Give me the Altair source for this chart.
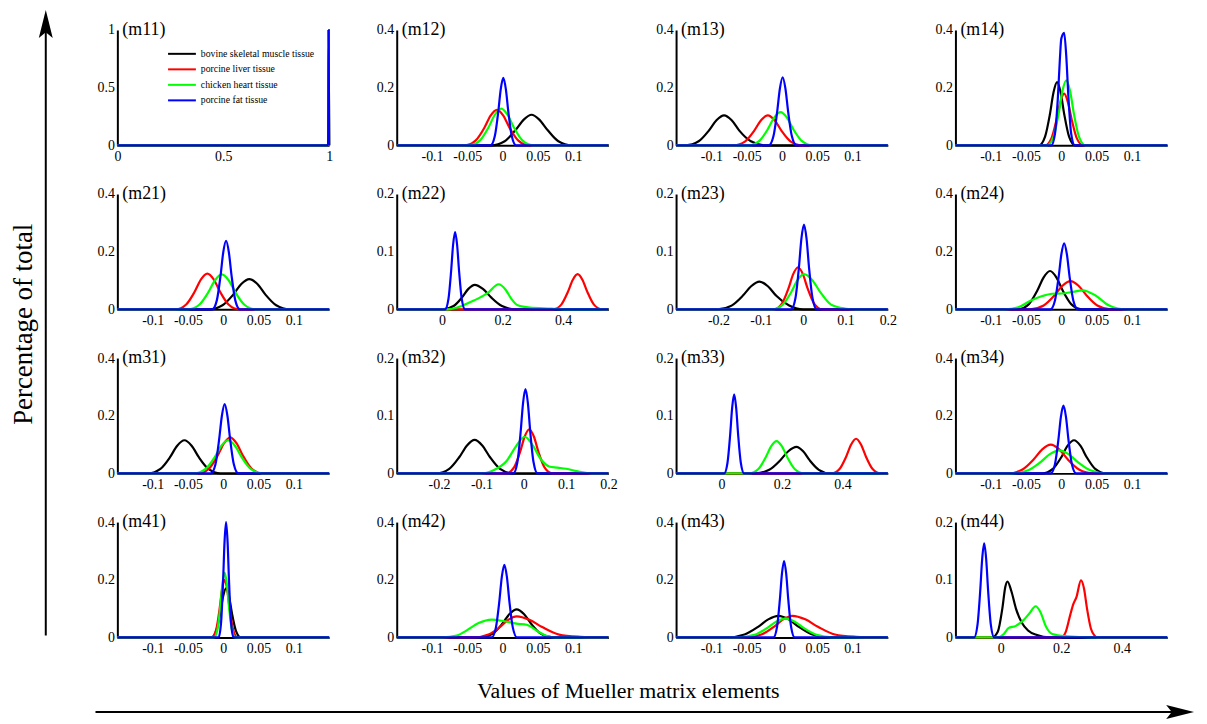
import altair as alt
import pandas as pd

SERIF = "Liberation Serif"
SERIES = ["bovine skeletal muscle tissue", "porcine liver tissue",
          "chicken heart tissue", "porcine fat tissue"]
COLORS = ["#000000", "#ff0000", "#00ff00", "#0000ff"]

# axis ranges / tick labels
X_M11 = [0, 1]
X_M11_TICKS = [0, 0.5, 1]
X_NARROW = [-0.15, 0.15]
X_NARROW_TICKS = [-0.1, -0.05, 0, 0.05, 0.1]
X_MID = [-0.3, 0.2]
X_MID_TICKS = [-0.2, -0.1, 0, 0.1, 0.2]
X_WIDE = [-0.15, 0.55]
X_WIDE_TICKS = [0, 0.2, 0.4]
Y_1 = [0, 1]
Y_1_TICKS = [0, 0.5, 1]
Y_04 = [0, 0.4]
Y_04_TICKS = [0, 0.2, 0.4]
Y_02 = [0, 0.2]
Y_02_TICKS = [0, 0.1, 0.2]

# ---- curves (x values, y values) ----
M11_K = ([0.0, 0.995, 0.998], [0.0, 0.0, 1.0])
M11_R = ([0.0, 0.995, 0.998], [0.0, 0.0, 1.0])
M11_G = ([0.0, 0.995, 0.998], [0.0, 0.0, 1.0])
M11_B = ([0.0, 0.995, 0.998], [0.0, 0.0, 1.0])

M12_K = ([-0.016, 0.003, 0.018, 0.030, 0.041, 0.052, 0.064, 0.079, 0.098],
         [0, 0.014, 0.052, 0.089, 0.106, 0.089, 0.052, 0.014, 0])
M12_R = ([-0.053, -0.038, -0.026, -0.017, -0.008, 0.001, 0.010, 0.022, 0.037],
         [0, 0.017, 0.060, 0.103, 0.123, 0.103, 0.060, 0.017, 0])
M12_G = ([-0.047, -0.032, -0.020, -0.011, -0.002, 0.007, 0.016, 0.028, 0.043],
         [0, 0.017, 0.062, 0.106, 0.127, 0.106, 0.062, 0.017, 0])
M12_B = ([-0.017, -0.011, -0.0062, -0.0026, 0.001, 0.0046, 0.0082, 0.013, 0.019],
         [0, 0.032, 0.115, 0.195, 0.234, 0.195, 0.115, 0.032, 0])

M13_K = ([-0.136, -0.118, -0.1036, -0.0928, -0.082, -0.0712, -0.0604, -0.044, -0.024],
         [0, 0.014, 0.051, 0.087, 0.104, 0.087, 0.051, 0.014, 0])
M13_R = ([-0.068, -0.052, -0.0392, -0.0296, -0.020, -0.0104, -0.0008, 0.012, 0.028],
         [0, 0.014, 0.051, 0.087, 0.104, 0.087, 0.051, 0.014, 0])
M13_G = ([-0.047, -0.032, -0.020, -0.011, -0.002, 0.007, 0.016, 0.028, 0.043],
         [0, 0.0155, 0.056, 0.096, 0.115, 0.096, 0.056, 0.0155, 0])
M13_B = ([-0.0185, -0.012, -0.0068, -0.0029, 0.001, 0.0049, 0.0088, 0.014, 0.0205],
         [0, 0.032, 0.116, 0.197, 0.236, 0.197, 0.116, 0.032, 0])

M14_K = ([-0.0315, -0.023, -0.0162, -0.0111, -0.006, -0.0009, 0.0042, 0.011, 0.0195],
         [0, 0.030, 0.107, 0.183, 0.219, 0.183, 0.107, 0.030, 0])
M14_R = ([-0.023, -0.014, -0.0068, -0.0014, 0.004, 0.0094, 0.0148, 0.022, 0.031],
         [0, 0.024, 0.088, 0.149, 0.179, 0.149, 0.088, 0.024, 0])
M14_G = ([-0.020, -0.011, -0.0038, 0.0016, 0.007, 0.0124, 0.0178, 0.025, 0.034],
         [0, 0.030, 0.110, 0.188, 0.225, 0.188, 0.110, 0.030, 0])
M14_B = ([-0.014, -0.009, -0.005, -0.002, 0.0, 0.004, 0.007, 0.010, 0.014, 0.019],
         [0, 0.04, 0.16, 0.30, 0.37, 0.39, 0.31, 0.17, 0.04, 0])

M21_K = ([-0.020, -0.001, 0.0142, 0.0256, 0.037, 0.0484, 0.0598, 0.075, 0.094],
         [0, 0.014, 0.051, 0.088, 0.105, 0.088, 0.051, 0.014, 0])
M21_R = ([-0.0675, -0.0525, -0.0405, -0.0315, -0.0225, -0.0135, -0.0045, 0.0075, 0.0225],
         [0, 0.017, 0.061, 0.104, 0.124, 0.104, 0.061, 0.017, 0])
M21_G = ([-0.050, -0.034, -0.0212, -0.0116, -0.002, 0.0076, 0.0172, 0.030, 0.046],
         [0, 0.016, 0.059, 0.101, 0.121, 0.101, 0.059, 0.016, 0])
M21_B = ([-0.0155, -0.009, -0.0038, 0.0001, 0.004, 0.0079, 0.0118, 0.017, 0.0235],
         [0, 0.032, 0.117, 0.199, 0.238, 0.199, 0.117, 0.032, 0])

M22_K = ([0.003, 0.038, 0.066, 0.087, 0.108, 0.135, 0.162, 0.198, 0.243],
         [0, 0.0057, 0.0208, 0.0355, 0.0425, 0.0355, 0.0208, 0.0057, 0])
M22_R = ([0.367, 0.394, 0.4156, 0.4318, 0.448, 0.4642, 0.4804, 0.502, 0.529],
         [0, 0.0082, 0.030, 0.051, 0.061, 0.051, 0.030, 0.0082, 0])
M22_G = ([0.02, 0.055, 0.09, 0.12, 0.15, 0.187, 0.21, 0.228, 0.25, 0.29, 0.36, 0.42],
         [0, 0.004, 0.012, 0.019, 0.028, 0.0435, 0.034, 0.019, 0.007, 0.003, 0.0015, 0])
M22_B = ([0.010, 0.021, 0.0298, 0.0364, 0.043, 0.0496, 0.0562, 0.065, 0.076],
         [0, 0.018, 0.066, 0.112, 0.134, 0.112, 0.066, 0.018, 0])

M23_K = ([-0.202, -0.169, -0.1426, -0.1228, -0.103, -0.0832, -0.0634, -0.033, 0.0],
         [0, 0.0065, 0.0235, 0.040, 0.048, 0.040, 0.0235, 0.0065, 0])
M23_R = ([-0.069, -0.050, -0.0348, -0.0234, -0.012, -0.0006, 0.0108, 0.026, 0.045],
         [0, 0.0099, 0.0358, 0.061, 0.073, 0.061, 0.0358, 0.0099, 0])
M23_G = ([-0.073, -0.048, -0.028, -0.013, 0.002, 0.0212, 0.0404, 0.066, 0.098, 0.125],
         [0, 0.0082, 0.030, 0.051, 0.061, 0.051, 0.030, 0.0082, 0.0015, 0])
M23_B = ([-0.028, -0.018, -0.010, -0.004, 0.002, 0.008, 0.014, 0.022, 0.032],
         [0, 0.020, 0.072, 0.123, 0.147, 0.123, 0.072, 0.020, 0])

M24_K = ([-0.061, -0.046, -0.034, -0.025, -0.016, -0.007, 0.002, 0.014, 0.029],
         [0, 0.018, 0.065, 0.111, 0.133, 0.111, 0.065, 0.018, 0])
M24_R = ([-0.044, -0.025, -0.0098, 0.0016, 0.013, 0.0244, 0.0358, 0.051, 0.070],
         [0, 0.0132, 0.048, 0.082, 0.098, 0.082, 0.048, 0.0132, 0])
M24_G = ([-0.08, -0.06, -0.045, -0.027, -0.013, 0.001, 0.015, 0.03, 0.048, 0.067, 0.08, 0.095],
         [0, 0.008, 0.028, 0.046, 0.054, 0.055, 0.06, 0.066, 0.049, 0.014, 0.003, 0])
M24_B = ([-0.0155, -0.009, -0.0038, 0.0001, 0.004, 0.0079, 0.0118, 0.017, 0.0235],
         [0, 0.031, 0.112, 0.191, 0.229, 0.191, 0.112, 0.031, 0])

M31_K = ([-0.106, -0.089, -0.0754, -0.0652, -0.055, -0.0448, -0.0346, -0.021, -0.004],
         [0, 0.0155, 0.056, 0.096, 0.115, 0.096, 0.056, 0.0155, 0])
M31_R = ([-0.035, -0.020, -0.008, 0.001, 0.010, 0.019, 0.028, 0.040, 0.055],
         [0, 0.017, 0.061, 0.104, 0.125, 0.104, 0.061, 0.017, 0])
M31_G = ([-0.041, -0.025, -0.0122, -0.0026, 0.007, 0.0166, 0.0262, 0.039, 0.055],
         [0, 0.0155, 0.056, 0.096, 0.115, 0.096, 0.056, 0.0155, 0])
M31_B = ([-0.0175, -0.011, -0.0058, -0.0019, 0.002, 0.0059, 0.0098, 0.015, 0.0215],
         [0, 0.032, 0.118, 0.200, 0.240, 0.200, 0.118, 0.032, 0])

M32_K = ([-0.206, -0.176, -0.152, -0.134, -0.116, -0.098, -0.080, -0.056, -0.026],
         [0, 0.0078, 0.0284, 0.0484, 0.058, 0.0484, 0.0284, 0.0078, 0])
M32_R = ([-0.041, -0.023, -0.0086, 0.0022, 0.013, 0.0238, 0.0346, 0.049, 0.067],
         [0, 0.0103, 0.0375, 0.0639, 0.0765, 0.0639, 0.0375, 0.0103, 0])
M32_G = ([-0.1, -0.07, -0.04, -0.02, 0.002, 0.02, 0.04, 0.06, 0.08, 0.1, 0.13, 0.16],
         [0, 0.006, 0.022, 0.045, 0.0635, 0.05, 0.025, 0.012, 0.01, 0.008, 0.003, 0])
M32_B = ([-0.0245, -0.015, -0.0074, -0.0017, 0.004, 0.0097, 0.0154, 0.023, 0.0325],
         [0, 0.0197, 0.0715, 0.122, 0.146, 0.122, 0.0715, 0.0197, 0])

M33_K = ([0.113, 0.158, 0.194, 0.221, 0.248, 0.270, 0.292, 0.322, 0.359],
         [0, 0.0062, 0.0225, 0.0384, 0.046, 0.0384, 0.0225, 0.0062, 0])
M33_R = ([0.364, 0.391, 0.4126, 0.4288, 0.445, 0.4612, 0.4774, 0.499, 0.526],
         [0, 0.0081, 0.0294, 0.050, 0.060, 0.050, 0.0294, 0.0081, 0])
M33_G = ([0.092, 0.122, 0.146, 0.164, 0.182, 0.200, 0.218, 0.242, 0.272],
         [0, 0.0076, 0.0274, 0.0468, 0.056, 0.0468, 0.0274, 0.0076, 0])
M33_B = ([0.009, 0.020, 0.0288, 0.0354, 0.042, 0.0486, 0.0552, 0.064, 0.075],
         [0, 0.0185, 0.067, 0.114, 0.137, 0.114, 0.067, 0.0185, 0])

M34_K = ([-0.027, -0.012, 0.0, 0.009, 0.018, 0.027, 0.036, 0.048, 0.063],
         [0, 0.0155, 0.056, 0.096, 0.115, 0.096, 0.056, 0.0155, 0])
M34_R = ([-0.075, -0.055, -0.039, -0.027, -0.015, -0.003, 0.009, 0.025, 0.045],
         [0, 0.0135, 0.049, 0.0835, 0.10, 0.0835, 0.049, 0.0135, 0])
M34_G = ([-0.069, -0.047, -0.0294, -0.0162, -0.003, 0.0102, 0.0234, 0.041, 0.063],
         [0, 0.0108, 0.0392, 0.0668, 0.08, 0.0668, 0.0392, 0.0108, 0])
M34_B = ([-0.015, -0.009, -0.0042, -0.0006, 0.003, 0.0066, 0.0102, 0.015, 0.021],
         [0, 0.0317, 0.115, 0.196, 0.235, 0.196, 0.115, 0.0317, 0])

M41_K = ([-0.017, -0.010, -0.0044, -0.0002, 0.004, 0.0082, 0.0124, 0.018, 0.025],
         [0, 0.023, 0.083, 0.142, 0.17, 0.142, 0.083, 0.023, 0])
M41_R = ([-0.016, -0.010, -0.0052, -0.0016, 0.002, 0.0056, 0.0092, 0.014, 0.020],
         [0, 0.027, 0.098, 0.167, 0.20, 0.167, 0.098, 0.027, 0])
M41_G = ([-0.013, -0.008, -0.004, -0.001, 0.002, 0.005, 0.008, 0.012, 0.017],
         [0, 0.030, 0.110, 0.188, 0.225, 0.188, 0.110, 0.030, 0])
M41_B = ([-0.0065, -0.003, -0.0002, 0.0019, 0.004, 0.0061, 0.0082, 0.011, 0.0145],
         [0, 0.054, 0.196, 0.334, 0.40, 0.334, 0.196, 0.054, 0])

M42_K = ([-0.031, -0.014, -0.0004, 0.0098, 0.020, 0.0302, 0.0404, 0.054, 0.071],
         [0, 0.0131, 0.0475, 0.081, 0.097, 0.081, 0.0475, 0.0131, 0])
M42_R = ([-0.04, -0.02, -0.004, 0.008, 0.02, 0.038, 0.056, 0.08, 0.11, 0.135],
         [0, 0.0099, 0.0358, 0.061, 0.073, 0.061, 0.0358, 0.0099, 0.002, 0])
M42_G = ([-0.085, -0.065, -0.053, -0.034, -0.0155, 0.003, 0.022, 0.034, 0.05, 0.064, 0.075],
         [0, 0.006, 0.021, 0.05, 0.062, 0.056, 0.047, 0.044, 0.021, 0.0035, 0])
M42_B = ([-0.0155, -0.0095, -0.0047, -0.0011, 0.0025, 0.0061, 0.0097, 0.0145, 0.0205],
         [0, 0.034, 0.123, 0.210, 0.252, 0.210, 0.123, 0.034, 0])

M43_K = ([-0.077, -0.053, -0.0338, -0.0194, -0.005, 0.0094, 0.0238, 0.043, 0.067],
         [0, 0.0101, 0.0368, 0.0626, 0.075, 0.0626, 0.0368, 0.0101, 0])
M43_R = ([-0.051, -0.029, -0.0114, 0.0018, 0.015, 0.033, 0.051, 0.075, 0.105, 0.13],
         [0, 0.0101, 0.0368, 0.0626, 0.075, 0.0626, 0.0368, 0.0101, 0.002, 0])
M43_G = ([-0.061, -0.039, -0.0214, -0.0082, 0.005, 0.0182, 0.0314, 0.049, 0.071],
         [0, 0.0088, 0.0319, 0.0543, 0.065, 0.0543, 0.0319, 0.0088, 0])
M43_B = ([-0.012, -0.007, -0.003, 0.0, 0.003, 0.006, 0.009, 0.013, 0.018],
         [0, 0.036, 0.130, 0.221, 0.265, 0.221, 0.130, 0.036, 0])

M44_K = ([-0.03, -0.01, 0.005, 0.015, 0.022, 0.035, 0.05, 0.07, 0.09, 0.12, 0.16],
         [0, 0.01, 0.05, 0.088, 0.097, 0.08, 0.05, 0.025, 0.012, 0.004, 0])
M44_R = ([0.2, 0.215, 0.23, 0.24, 0.25, 0.265, 0.275, 0.285, 0.298, 0.31, 0.32],
         [0, 0.01, 0.04, 0.058, 0.07, 0.099, 0.085, 0.05, 0.015, 0.003, 0])
M44_G = ([-0.01, 0.01, 0.025, 0.05, 0.075, 0.095, 0.115, 0.13, 0.15, 0.17, 0.22, 0.3],
         [0, 0.006, 0.016, 0.02, 0.03, 0.042, 0.054, 0.045, 0.018, 0.006, 0.002, 0])
M44_B = ([-0.088, -0.077, -0.0682, -0.0616, -0.055, -0.0484, -0.0418, -0.033, -0.022],
         [0, 0.022, 0.080, 0.136, 0.163, 0.136, 0.080, 0.022, 0])

CURVES = {
    "m11": [M11_K, M11_R, M11_G, M11_B], "m12": [M12_K, M12_R, M12_G, M12_B],
    "m13": [M13_K, M13_R, M13_G, M13_B], "m14": [M14_K, M14_R, M14_G, M14_B],
    "m21": [M21_K, M21_R, M21_G, M21_B], "m22": [M22_K, M22_R, M22_G, M22_B],
    "m23": [M23_K, M23_R, M23_G, M23_B], "m24": [M24_K, M24_R, M24_G, M24_B],
    "m31": [M31_K, M31_R, M31_G, M31_B], "m32": [M32_K, M32_R, M32_G, M32_B],
    "m33": [M33_K, M33_R, M33_G, M33_B], "m34": [M34_K, M34_R, M34_G, M34_B],
    "m41": [M41_K, M41_R, M41_G, M41_B], "m42": [M42_K, M42_R, M42_G, M42_B],
    "m43": [M43_K, M43_R, M43_G, M43_B], "m44": [M44_K, M44_R, M44_G, M44_B],
}
NARROW = (X_NARROW, X_NARROW_TICKS, Y_04, Y_04_TICKS)
SPEC = {
    "m11": (X_M11, X_M11_TICKS, Y_1, Y_1_TICKS),
    "m12": NARROW, "m13": NARROW, "m14": NARROW,
    "m21": NARROW, "m22": (X_WIDE, X_WIDE_TICKS, Y_02, Y_02_TICKS),
    "m23": (X_MID, X_MID_TICKS, Y_02, Y_02_TICKS), "m24": NARROW,
    "m31": NARROW, "m32": (X_MID, X_MID_TICKS, Y_02, Y_02_TICKS),
    "m33": (X_WIDE, X_WIDE_TICKS, Y_02, Y_02_TICKS), "m34": NARROW,
    "m41": NARROW, "m42": NARROW, "m43": NARROW,
    "m44": (X_WIDE, X_WIDE_TICKS, Y_02, Y_02_TICKS),
}
ORDER = ["m11", "m12", "m13", "m14", "m21", "m22", "m23", "m24",
         "m31", "m32", "m33", "m34", "m41", "m42", "m43", "m44"]

Y_LABEL = "Percentage of total"
X_LABEL = "Values of Mueller matrix elements"

PW, PH = 213, 116

AX = dict(labelFont=SERIF, labelFontSize=14, labelColor="black", domainColor="black",
          domainWidth=2, ticks=False, grid=False, labelFlush=False, labelOverlap=False,
          labelExpr="toString(datum.value)")

ONE = pd.DataFrame({"a": [0]})


def make_panel(name):
    xdom, xt, ydom, yt = SPEC[name]
    xenc = alt.X("x:Q", title=None,
                 scale=alt.Scale(domain=xdom, nice=False, zero=False),
                 axis=alt.Axis(values=xt, labelPadding=4, **AX))
    yenc = alt.Y("y:Q", title=None,
                 scale=alt.Scale(domain=ydom, nice=False, zero=False),
                 axis=alt.Axis(values=yt, labelPadding=3, **AX))
    if name == "m11":
        leg = alt.Legend(orient="none", legendX=57, legendY=16, title=None,
                         symbolType="M-2,0L2,0", symbolSize=196, symbolStrokeWidth=2,
                         labelFont=SERIF, labelFontSize=9.8, labelColor="black",
                         labelOffset=11, rowPadding=2.6, padding=0)
    else:
        leg = None
    layers = []
    for s, (xs, ys) in zip(SERIES, CURVES[name]):
        xs2, ys2 = list(xs), list(ys)
        if xs2[0] > xdom[0]:
            xs2, ys2 = [xdom[0]] + xs2, [0] + ys2
        if xs2[-1] < xdom[1]:
            xs2, ys2 = xs2 + [xdom[1]], ys2 + [0]
        df = pd.DataFrame({"x": xs2, "y": ys2, "s": s})
        layers.append(
            alt.Chart(df).mark_line(strokeWidth=2.2, interpolate="monotone").encode(
                x=xenc, y=yenc,
                color=alt.Color("s:N", scale=alt.Scale(domain=SERIES, range=COLORS),
                                legend=leg)))
    title = alt.Chart(pd.DataFrame({"t": [f"({name})"]})).mark_text(
        font=SERIF, fontSize=18, align="left", baseline="middle", color="black"
    ).encode(text="t:N", x=alt.value(5), y=alt.value(0))
    layers.append(title)
    if name == "m11":
        layers.append(alt.Chart(pd.DataFrame({"t": [Y_LABEL]})).mark_text(
            font=SERIF, fontSize=27, angle=270, align="center", baseline="middle",
            color="black").encode(text="t:N", x=alt.value(-94), y=alt.value(296)))
        layers.append(alt.Chart(ONE).mark_rule(color="black", strokeWidth=2).encode(
            x=alt.value(-72), y=alt.value(609), y2=alt.value(-8)))
        layers.append(alt.Chart(ONE).mark_point(
            shape="M0,-1L0.5,1L0,0.6L-0.5,1Z", size=784, filled=True, color="black",
            opacity=1, strokeWidth=0).encode(x=alt.value(-72), y=alt.value(-6)))
    if name == "m41":
        layers.append(alt.Chart(pd.DataFrame({"t": [X_LABEL]})).mark_text(
            font=SERIF, fontSize=22, align="center", baseline="middle",
            color="black").encode(text="t:N", x=alt.value(514), y=alt.value(170)))
        layers.append(alt.Chart(ONE).mark_rule(color="black", strokeWidth=2).encode(
            x=alt.value(-22), x2=alt.value(1075), y=alt.value(191)))
        layers.append(alt.Chart(ONE).mark_point(
            shape="M1,0L-1,-0.5L-0.6,0L-1,0.5Z", size=784, filled=True, color="black",
            opacity=1, strokeWidth=0).encode(x=alt.value(1069), y=alt.value(191)))
    return alt.layer(*layers).properties(width=PW, height=PH)


chart = alt.concat(
    *[make_panel(n) for n in ORDER], columns=4,
    spacing={"row": 49, "column": 68}, bounds="flush"
).resolve_scale(color="independent").properties(
    padding={"left": 2, "top": 0, "right": 5, "bottom": 5}
).configure_view(strokeWidth=0).configure_axis(
    labelFont=SERIF, labelFontSize=14, labelColor="black"
)

chart.save("out.html", embed_options={"renderer": "svg", "actions": False})
